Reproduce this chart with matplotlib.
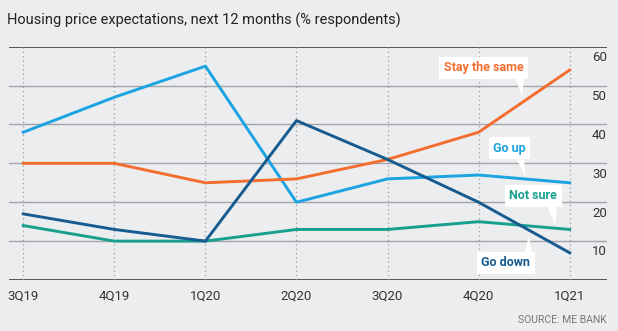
import numpy as np
import matplotlib.pyplot as plt

QUARTERS = ["3Q19", "4Q19", "1Q20", "2Q20", "3Q20", "4Q20", "1Q21"]
GO_UP = [38, 47, 55, 20, 26, 27, 25]
STAY_SAME = [30, 30, 25, 26, 31, 38, 54]
GO_DOWN = [17, 13, 10, 41, 31, 20, 7]
NOT_SURE = [14, 10, 10, 13, 13, 15, 13]
Y_TICKS = [10, 20, 30, 40, 50, 60]

BG = "#ecedef"
C_UP = "#1ba3e2"
C_SAME = "#f36d2f"
C_DOWN = "#175c91"
C_NOT = "#17a08e"

fig = plt.figure(figsize=(6.18, 3.31), dpi=100, facecolor=BG)
ax = fig.add_axes([9 / 618, 1 - 280 / 331, 598 / 618, (280 - 46.7) / 331])
ax.set_facecolor(BG)
for s in ax.spines.values():
    s.set_visible(False)

x = np.arange(len(QUARTERS))
ax.set_xlim(-0.157, 6.41)
ax.set_ylim(0, 60)

# gridlines
for v in [10, 20, 30, 40, 50]:
    ax.axhline(v, color="#a3a5a8", lw=1.0, zorder=1)
ax.axhline(0, color="#4a4a4a", lw=1.3, zorder=1)
ax.axhline(60, color="#4a4a4a", lw=1.3, zorder=1)
for xi in x:
    ax.plot([xi, xi], [0, 60], color="#9a9ca0", lw=0.9, ls=(0, (1, 2.5)), zorder=1)

ax.plot(x, NOT_SURE, color=C_NOT, lw=2.1, zorder=3)
ax.plot(x, GO_UP, color=C_UP, lw=2.1, zorder=3)
ax.plot(x, STAY_SAME, color=C_SAME, lw=2.1, zorder=3)
ax.plot(x, GO_DOWN, color=C_DOWN, lw=2.1, zorder=4)

ax.set_xticks([])
ax.set_yticks([])
for xi, q in zip(x, QUARTERS):
    ax.annotate(q, (xi, 0), xytext=(0, -7), textcoords="offset points",
                ha="center", va="top", fontsize=9.5, color="#333333",
                family="Roboto", annotation_clip=False)
for v in Y_TICKS:
    ax.annotate(str(v), (1.0, v), xycoords=ax.get_yaxis_transform(),
                xytext=(0, -7.8), textcoords="offset points",
                ha="right", va="center", fontsize=9.5, color="#333333",
                family="Roboto", annotation_clip=False)

# callout labels: (text, colour, box centre, tail base left/right x, base y, tip)
callouts = [
    ("Stay the same", C_SAME, (5.055, 54.6), (5.40, 5.50), 52.2, (5.477, 47.1)),
    ("Go up", C_UP, (5.337, 33.9), (5.42, 5.50), 31.0, (5.513, 26.6)),
    ("Not sure", C_NOT, (5.60, 21.65), (5.75, 5.86), 19.0, (5.843, 14.1)),
    ("Go down", C_DOWN, (5.30, 4.4), (5.505, 5.587), 7.0, (5.549, 11.1)),
]
for label, col, (cx, cy), (bl, br), by, (tx, ty) in callouts:
    ax.fill([bl, br, tx], [by, by, ty], color="white", zorder=5, lw=0)
    ax.text(cx, cy, label, color=col, fontsize=9, fontweight="bold",
            family="Roboto", ha="center", va="center", zorder=6,
            bbox=dict(boxstyle="square,pad=0.35", fc="white", ec="none"))

fig.text(7 / 618, 1 - 20 / 331, "Housing price expectations, next 12 months (% respondents)",
         fontsize=10.5, color="#222222", family="Roboto", ha="left", va="center")
fig.text(607 / 618, 1 - 320 / 331, "SOURCE: ME BANK", fontsize=7.5,
         color="#777777", family="Roboto", ha="right", va="center")

fig.savefig("out.png", dpi=100, facecolor=BG)
